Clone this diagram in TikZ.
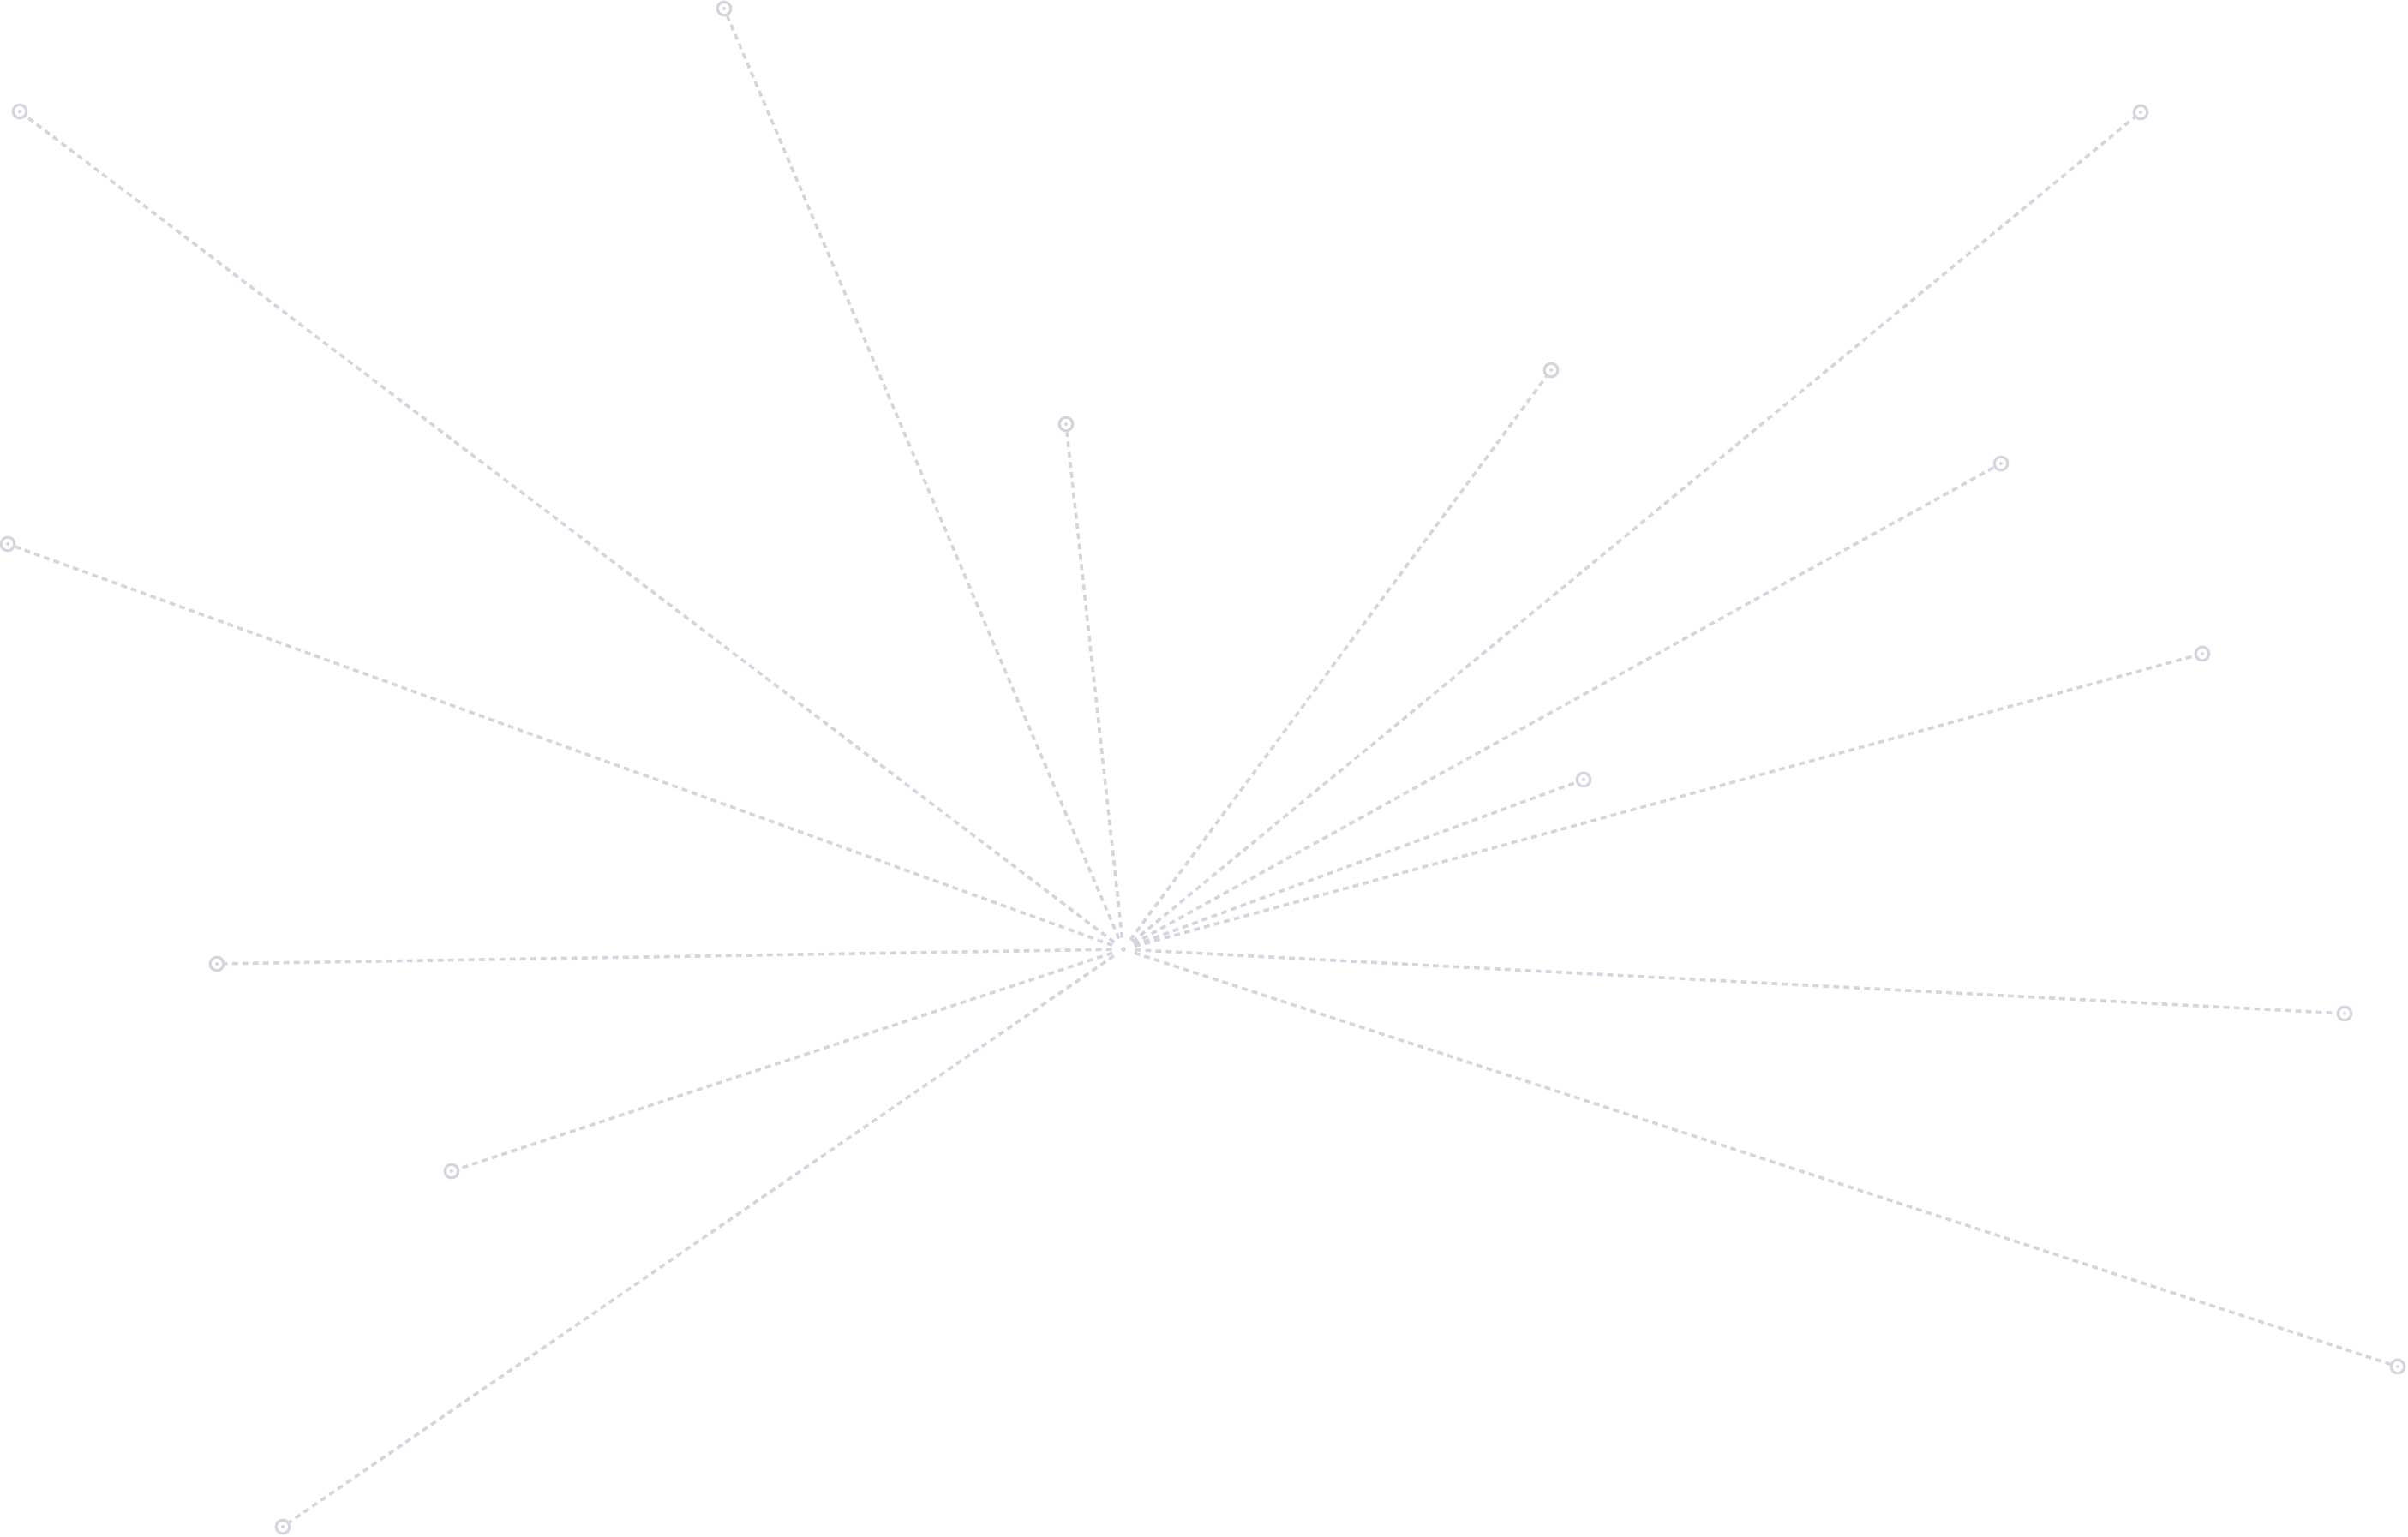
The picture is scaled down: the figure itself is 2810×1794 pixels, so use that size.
\documentclass[tikz,border=0pt]{standalone}
\usetikzlibrary{positioning}

\definecolor{spokegray}{RGB}{214,212,222}
\tikzset{every picture/.style={line width=0.75pt}}
\tikzset{
  spoke/.style={draw=spokegray, line width=0.9pt, dash pattern=on 1.7pt off 1.3pt},
  tip/.style={circle, draw=spokegray, line width=0.8pt, minimum size=3.9pt, inner sep=0pt},
  hub/.style={circle, minimum size=6pt, inner sep=0pt}
}

\begin{document}
\begin{tikzpicture}[x=0.25pt,y=0.25pt,yscale=-1,xscale=1]
\useasboundingbox (0,0) rectangle (2810,1794);

%Shape: Hub
\node [hub] (hub) at (1311,1108) {};
\fill [spokegray] (hub) circle (2.8);

%Shape: Tips
\node [tip] (t1) at (845,10) {};
\node [tip] (t2) at (23,130) {};
\node [tip] (t3) at (9,635) {};
\node [tip] (t4) at (253,1125) {};
\node [tip] (t5) at (527,1367) {};
\node [tip] (t6) at (330,1782) {};
\node [tip] (t7) at (1244,495) {};
\node [tip] (t8) at (1810,432) {};
\node [tip] (t9) at (2498,131) {};
\node [tip] (t10) at (2335,541) {};
\node [tip] (t11) at (2570,763) {};
\node [tip] (t12) at (1848,910) {};
\node [tip] (t13) at (2736,1183) {};
\node [tip] (t14) at (2798,1595) {};

%Dots in tips
\foreach \i in {1,...,14}
  \fill [spokegray] (t\i) circle (2);

%Straight Lines
\foreach \i in {1,...,14}
  \draw [spoke] (hub) -- (t\i);

\end{tikzpicture}
\end{document}
